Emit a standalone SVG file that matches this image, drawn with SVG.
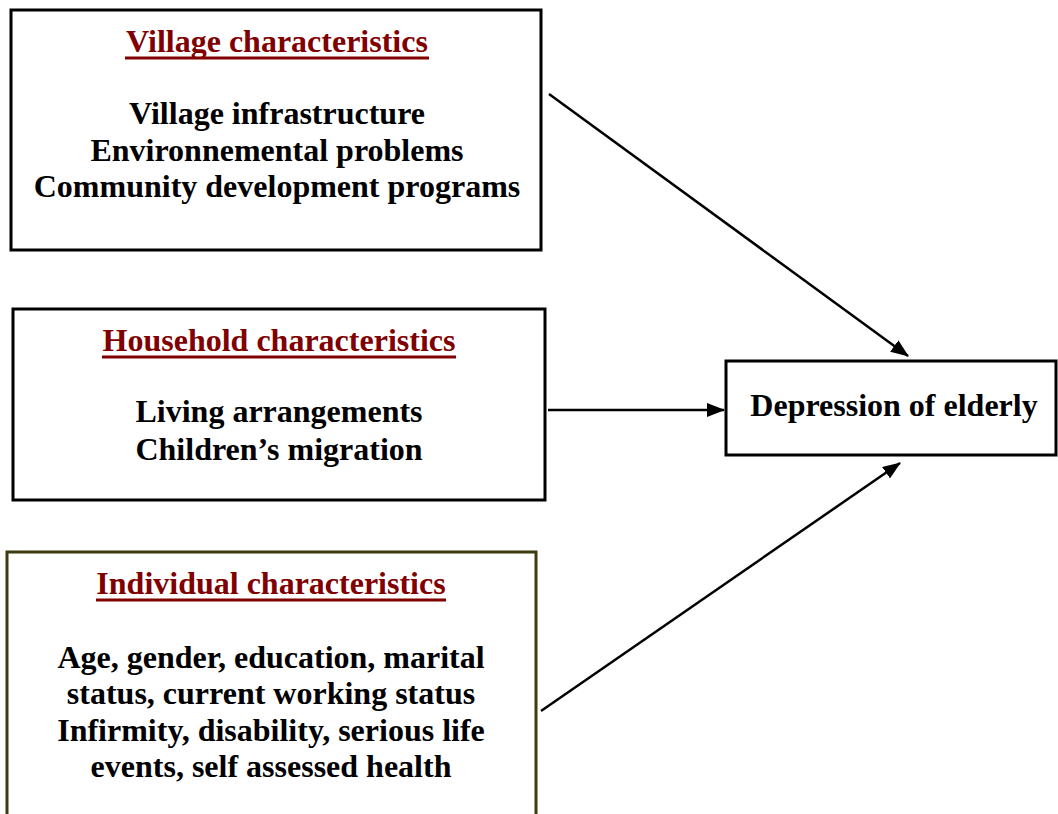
<svg xmlns="http://www.w3.org/2000/svg" width="1058" height="814" viewBox="0 0 1058 814">
  <defs>
    <marker id="arrow" markerWidth="18" markerHeight="14" refX="17" refY="7" orient="auto" markerUnits="userSpaceOnUse" viewBox="0 0 18 14">
      <path d="M0,0 L18,7 L0,14 Z" fill="#000"/>
    </marker>
    <style>
      .box { fill: #fff; stroke: #000; stroke-width: 3; }
      .box-olive { fill: #fff; stroke: #3c3c10; stroke-width: 3; }
      text { font-family: "Liberation Serif", "Times New Roman", serif; font-weight: bold; font-size: 32px; text-anchor: middle; }
      .title { fill: #800000; }
      .body { fill: #000; }
      .uline { stroke: #800000; stroke-width: 3; }
      .conn { stroke: #000; stroke-width: 2.5; fill: none; marker-end: url(#arrow); }
    </style>
  </defs>
  <rect width="1058" height="814" fill="#fff"/>

  <g id="village">
    <rect class="box" x="11" y="10" width="530" height="240"/>
    <text class="title" x="277" y="52">Village characteristics</text>
    <line class="uline" x1="125" y1="58" x2="429" y2="58"/>
    <text class="body" x="277" y="124">Village infrastructure</text>
    <text class="body" x="277" y="161">Environnemental problems</text>
    <text class="body" x="277" y="197">Community development programs</text>
  </g>

  <g id="household">
    <rect class="box" x="13" y="309" width="532" height="191"/>
    <text class="title" x="279" y="351">Household characteristics</text>
    <line class="uline" x1="102" y1="357" x2="456" y2="357"/>
    <text class="body" x="279" y="422">Living arrangements</text>
    <text class="body" x="279" y="460">Children’s migration</text>
  </g>

  <g id="individual">
    <rect class="box-olive" x="7" y="552" width="529" height="270"/>
    <text class="title" x="271" y="594">Individual characteristics</text>
    <line class="uline" x1="96" y1="600" x2="446" y2="600"/>
    <text class="body" x="271" y="668">Age, gender, education, marital</text>
    <text class="body" x="271" y="704">status, current working status</text>
    <text class="body" x="271" y="741">Infirmity, disability, serious life</text>
    <text class="body" x="271" y="777">events, self assessed health</text>
  </g>

  <g id="depression">
    <rect class="box" x="726" y="361" width="330" height="94"/>
    <text class="body" x="894" y="416">Depression of elderly</text>
  </g>

  <g id="connectors">
    <line class="conn" x1="549" y1="94" x2="908" y2="356"/>
    <line class="conn" x1="548" y1="410" x2="724" y2="410"/>
    <line class="conn" x1="541" y1="711" x2="900" y2="463"/>
  </g>
</svg>
